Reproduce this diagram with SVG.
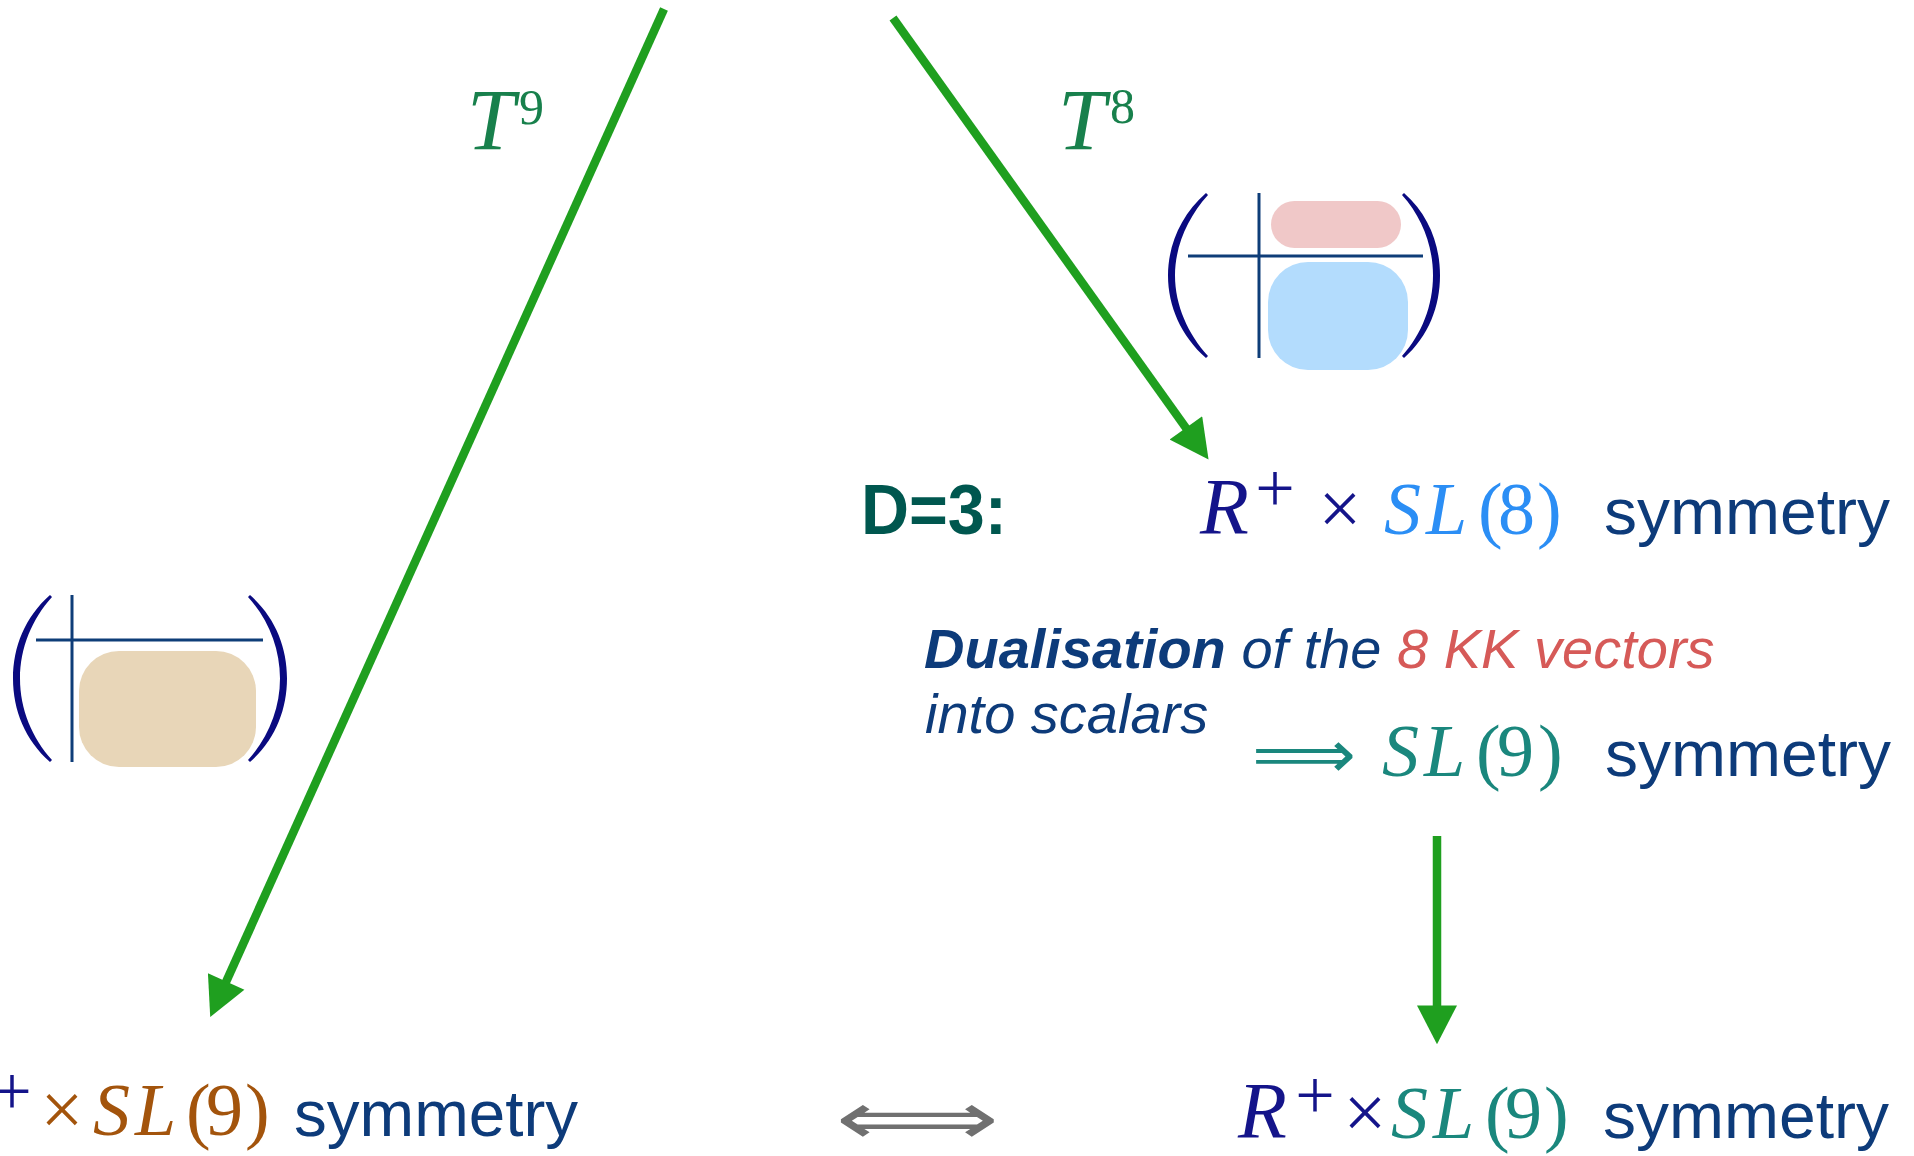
<svg xmlns="http://www.w3.org/2000/svg" width="1914" height="1156" viewBox="0 0 1914 1156">
<style>
.m{font-family:"Liberation Serif","DejaVu Serif",serif;font-size:74px}
.big{font-size:80px}
.tt{font-size:86px}
.sup{font-size:50px}
.pl{font-size:70px}
.tm{font-size:76px}
.i{font-style:italic}
.s{font-family:"Liberation Sans",Arial,sans-serif}
.sym{font-family:"Liberation Sans",Arial,sans-serif;font-size:64px;fill:#0d3b7a}
.navy{fill:#14148a}
.teal{fill:#1a877d}
.lb{fill:#2b8ef5}
.org{fill:#a3540c}
.tg{fill:#18804c}
.conn{stroke:#1f9f1f;stroke-width:8.5;fill:none}
.paren{fill:#0a0a80}
.grid{stroke:#0e3d78;stroke-width:3;fill:none}
</style>
<defs>
<marker id="ah" markerUnits="userSpaceOnUse" markerWidth="40" markerHeight="40" viewBox="0 0 34 35" refX="4" refY="17.5" orient="auto">
<path d="M0,0 L34,17.5 L0,35 Z" fill="#1f9f1f"/>
</marker>
</defs>
<rect width="1914" height="1156" fill="#ffffff"/>

<g id="connectors">
<line class="conn" x1="664" y1="9" x2="224.3" y2="985.7" marker-end="url(#ah)"/>
<line class="conn" x1="893" y1="18" x2="1188.6" y2="431.6" marker-end="url(#ah)"/>
<line class="conn" x1="1437" y1="836" x2="1437" y2="1010" marker-end="url(#ah)"/>
</g>

<g id="label-T9">
<text class="m tt i tg" x="467" y="149">T</text>
<text class="m sup tg" x="519" y="124">9</text>
</g>
<g id="label-T8">
<text class="m tt i tg" x="1058" y="149">T</text>
<text class="m sup tg" x="1110" y="123">8</text>
</g>

<g id="matrix-top">
<rect x="1271" y="201" width="130" height="47" rx="23.5" fill="#f0c8c8"/>
<rect x="1268" y="262" width="140" height="108" rx="40" fill="#b3dcfd"/>
<line class="grid" x1="1259" y1="193" x2="1259" y2="358"/>
<line class="grid" x1="1188" y1="256" x2="1423" y2="256"/>
<path class="paren" d="M1206,193 C1181,215 1168,245 1168,275.5 C1168,306 1181,336 1206,358 L1208,356 C1188,334 1175,305 1175,275.5 C1175,246 1188,217 1208,195 Z"/>
<path class="paren" d="M1404,193 C1429,215 1440,245 1440,275.5 C1440,306 1429,336 1404,358 L1402,356 C1422,334 1433,305 1433,275.5 C1433,246 1422,217 1402,195 Z"/>
</g>

<g id="matrix-left">
<rect x="79" y="651" width="177" height="116" rx="40" fill="#e8d6b8"/>
<line class="grid" x1="72" y1="595" x2="72" y2="762"/>
<line class="grid" x1="36" y1="640" x2="263" y2="640"/>
<path class="paren" d="M50,595 C25,617 13,647 13,678.5 C13,710 25,740 50,762 L52,760 C32,738 20,709 20,678.5 C20,648 32,619 52,597 Z"/>
<path class="paren" d="M250,595 C275,617 287,647 287,678.5 C287,710 275,740 250,762 L248,760 C268,738 280,709 280,678.5 C280,648 268,619 248,597 Z"/>
</g>

<g id="d3-line">
<text class="s" x="861" y="534" font-size="70" font-weight="bold" fill="#00574f" textLength="146" lengthAdjust="spacingAndGlyphs">D=3:</text>
<text class="m big i navy" x="1200" y="534">R</text>
<text class="m pl navy" x="1275" y="512" text-anchor="middle">+</text>
<text class="m tm navy" x="1340" y="534" text-anchor="middle">×</text>
<text class="m lb" y="534"><tspan class="i" x="1384">S</tspan><tspan class="i" x="1426">L</tspan><tspan x="1478">(</tspan><tspan x="1498">8</tspan><tspan x="1537">)</tspan></text>
<text class="sym" x="1604" y="534" textLength="286" lengthAdjust="spacingAndGlyphs">symmetry</text>
</g>

<g id="dualisation">
<text class="s i" x="924" y="668" font-size="56" fill="#0d3b7a"><tspan font-weight="bold">Dualisation</tspan> of the <tspan fill="#d65a58">8 KK vectors</tspan></text>
<text class="s i" x="925" y="733" font-size="56" fill="#0d3b7a">into scalars</text>
</g>

<g id="sl9-line">
<text x="1252" y="777" font-family="DejaVu Sans, sans-serif" font-size="66" class="teal" textLength="104" lengthAdjust="spacingAndGlyphs">⟹</text>
<text class="m teal" y="776"><tspan class="i" x="1382">S</tspan><tspan class="i" x="1424">L</tspan><tspan x="1476">(</tspan><tspan x="1497">9</tspan><tspan x="1538">)</tspan></text>
<text class="sym" x="1605" y="776" textLength="286" lengthAdjust="spacingAndGlyphs">symmetry</text>
</g>

<g id="bottom-left">
<text class="m pl navy" x="12" y="1115" text-anchor="middle">+</text>
<text class="m tm org" x="62" y="1135" text-anchor="middle">×</text>
<text class="m org" y="1135"><tspan class="i" x="93">S</tspan><tspan class="i" x="135">L</tspan><tspan x="186">(</tspan><tspan x="206">9</tspan><tspan x="245">)</tspan></text>
<text class="sym" x="294" y="1136" textLength="284" lengthAdjust="spacingAndGlyphs">symmetry</text>
</g>

<g id="equiv">
<text x="835" y="1144" font-family="DejaVu Sans, sans-serif" font-size="74" fill="#707070" textLength="164" lengthAdjust="spacingAndGlyphs">⟺</text>
</g>

<g id="bottom-right">
<text class="m big i navy" x="1238" y="1138">R</text>
<text class="m pl navy" x="1315" y="1119" text-anchor="middle">+</text>
<text class="m tm navy" x="1365" y="1138" text-anchor="middle">×</text>
<text class="m teal" y="1138"><tspan class="i" x="1391">S</tspan><tspan class="i" x="1433">L</tspan><tspan x="1485">(</tspan><tspan x="1505">9</tspan><tspan x="1544">)</tspan></text>
<text class="sym" x="1603" y="1138" textLength="286" lengthAdjust="spacingAndGlyphs">symmetry</text>
</g>
</svg>
